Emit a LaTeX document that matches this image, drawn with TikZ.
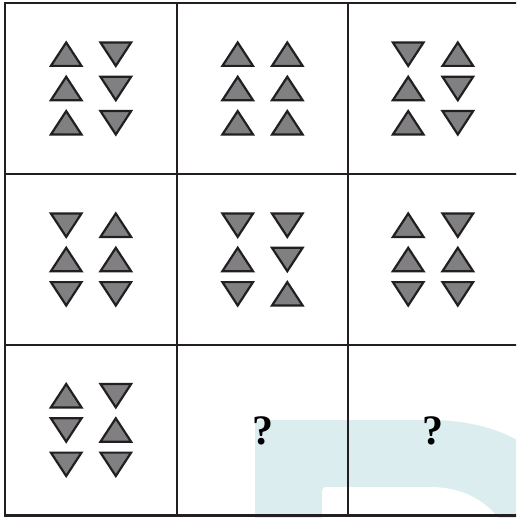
\documentclass[tikz,border=0pt]{standalone}
\usepackage{fontspec}
\setmainfont{Liberation Serif}
\usepackage{tikz}
\definecolor{grigiotri}{RGB}{128,128,130}
\definecolor{bordo}{RGB}{35,31,32}
\definecolor{filigrana}{RGB}{220,237,239}
\tikzset{
  griglia/.style={line width=2.4pt,draw=bordo,line cap=rect},
  tri/.style={fill=grigiotri,draw=bordo,line width=2.2pt},
  domanda/.style={font=\fontsize{42}{42}\selectfont\bfseries,text=black,inner sep=0pt}
}
% triangolo: centro x, centro y, verso (1 su, -1 giu)
\newcommand{\triangolo}[3]{%
  \filldraw[tri] ({#1-15.3},{#2+11.7*(#3)}) -- ({#1+15.3},{#2+11.7*(#3)}) -- ({#1},{#2-11.7*(#3)}) -- cycle;}

\begin{document}
\begin{tikzpicture}[x=1pt,y=-1pt]
    \clip (0,0) rectangle (516,518);
    % Filigrana
    \fill[filigrana] (255,520) -- (255,428) .. controls (255,422) and (257,420) .. (263,420)
        -- (430,420) .. controls (470,420) and (505,430) .. (530,448) -- (530,520) -- cycle;
    \fill[white] (322,520) -- (322,492) .. controls (322,489) and (323,487) .. (327,487)
        -- (430,487) .. controls (462,487) and (485,500) .. (500,520) -- cycle;
    % Griglia
    \foreach \y in {3,174,345,515.5}
        \draw[griglia] (5,\y) -- (520,\y);
    \foreach \x in {5,177,348}
        \draw[griglia] (\x,3) -- (\x,515.5);
    % Triangoli: colonna sinistra (a,b,c), colonna destra (d,e,f)
    \foreach \cx/\cy/\a/\b/\c/\d/\e/\f in {
        91/88.5/1/1/1/-1/-1/-1, 262.5/88.5/1/1/1/1/1/1, 433/88.5/-1/1/1/1/-1/-1,
        91/259.5/-1/1/-1/1/1/-1, 262.5/259.5/-1/1/-1/-1/-1/1, 433/259.5/1/1/-1/-1/1/-1,
        91/430/1/-1/-1/-1/1/-1}{
        \triangolo{\cx-24.8}{\cy-34.3}{\a}
        \triangolo{\cx-24.8}{\cy}{\b}
        \triangolo{\cx-24.8}{\cy+34.3}{\c}
        \triangolo{\cx+24.8}{\cy-34.3}{\d}
        \triangolo{\cx+24.8}{\cy}{\e}
        \triangolo{\cx+24.8}{\cy+34.3}{\f}
    }
    % Punti interrogativi
    \node[domanda] (q1) at (262.5,430.5) {?};
    \node[domanda] (q2) at (433,430.5) {?};
\end{tikzpicture}
\end{document}
